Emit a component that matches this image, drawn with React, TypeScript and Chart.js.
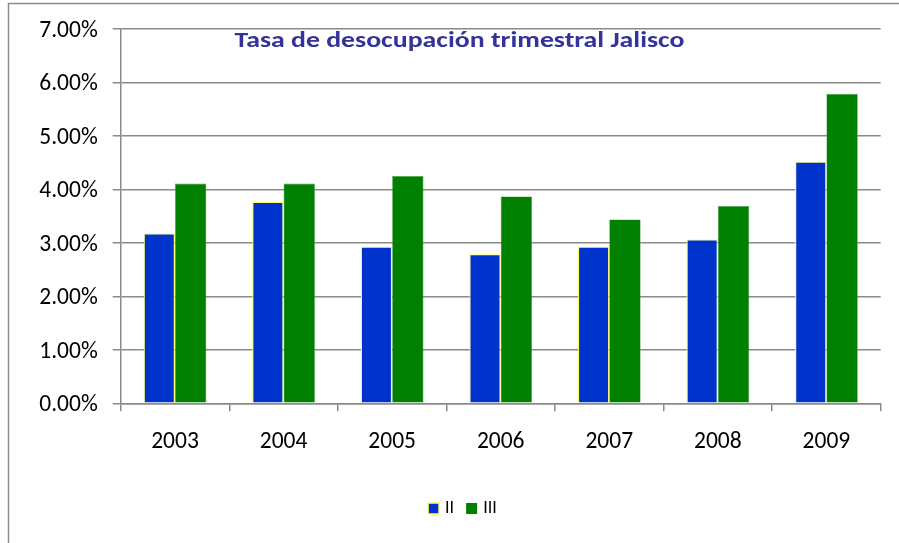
import React, { useEffect, useRef } from 'react';
import { Chart, registerables } from 'chart.js';

Chart.register(...registerables);

const years = ['2003', '2004', '2005', '2006', '2007', '2008', '2009'];
const seriesII = [3.18, 3.77, 2.93, 2.79, 2.93, 3.07, 4.52];
const seriesIII = [4.11, 4.11, 4.25, 3.87, 3.44, 3.69, 5.79];
const seriesNames = ['II', 'III'];
const titleText = 'Tasa de desocupación trimestral Jalisco';
const yMin = 0;
const yMax = 7;
const yStep = 1;

const FONT = 'Carlito, Calibri, "DejaVu Sans", sans-serif';
const GRID = '#8a8a8a';

const framePlugin = {
  id: 'frame',
  beforeDraw(chart: any) {
    const ctx = chart.ctx;
    ctx.save();
    ctx.fillStyle = '#ffffff';
    ctx.fillRect(0, 0, chart.width, chart.height);
    ctx.strokeStyle = '#8c8c8c';
    ctx.lineWidth = 1.5;
    ctx.strokeRect(8.5, 3.5, 1200, 1200);
    ctx.restore();
  },
};

const titlePlugin = {
  id: 'innerTitle',
  afterDraw(chart: any) {
    const ctx = chart.ctx;
    ctx.save();
    ctx.font = `bold 21.7px ${FONT}`;
    const w = ctx.measureText(titleText).width;
    const targetW = 450;
    ctx.fillStyle = '#333399';
    ctx.textAlign = 'left';
    ctx.textBaseline = 'alphabetic';
    ctx.translate(234.5, 46.7);
    ctx.scale(targetW / w, 1);
    ctx.fillText(titleText, 0, 0);
    ctx.restore();
  },
};

const legendPlugin = {
  id: 'customLegend',
  afterDraw(chart: any) {
    const ctx = chart.ctx;
    ctx.save();
    ctx.font = `18px ${FONT}`;
    ctx.textBaseline = 'middle';
    ctx.textAlign = 'left';
    const box = 11;
    const cy = 508.5;
    const gapBoxText = 6;
    const gapItems = 12;
    const ds = chart.data.datasets;
    const widths = ds.map((d: any) => box + gapBoxText + ctx.measureText(d.label).width);
    const total = widths.reduce((a: number, b: number) => a + b, 0) + gapItems * (ds.length - 1);
    let x = 462.4 - total / 2;
    ds.forEach((d: any, i: number) => {
      ctx.fillStyle = d.backgroundColor;
      ctx.fillRect(x, cy - box / 2, box, box);
      if (d.legendBorder) {
        ctx.strokeStyle = d.legendBorder;
        ctx.lineWidth = 1.5;
        ctx.strokeRect(x, cy - box / 2, box, box);
      }
      ctx.fillStyle = '#000000';
      ctx.fillText(d.label, x + box + gapBoxText, cy);
      x += widths[i] + gapItems;
    });
    ctx.restore();
  },
};

export default function App() {
  const ref = useRef<HTMLCanvasElement>(null);

  useEffect(() => {
    if (!ref.current) return;
    const chart = new Chart(ref.current, {
      type: 'bar',
      data: {
        labels: years,
        datasets: [
          {
            label: seriesNames[0],
            data: seriesII,
            backgroundColor: '#0033CC',
            borderColor: '#FFFF66',
            borderWidth: 1.2,
            legendBorder: '#FFFF66',
            categoryPercentage: 0.578,
            barPercentage: 1,
          } as any,
          {
            label: seriesNames[1],
            data: seriesIII,
            backgroundColor: '#008000',
            borderColor: '#4E9E4E',
            borderWidth: 0.6,
            categoryPercentage: 0.578,
            barPercentage: 1,
          } as any,
        ],
      },
      options: {
        responsive: false,
        animation: false,
        devicePixelRatio: 1,
        layout: { padding: { left: 0, right: 18.3, top: 27.3, bottom: 0 } },
        plugins: {
          legend: { display: false },
          title: { display: false },
          tooltip: { enabled: false },
        },
        scales: {
          x: {
            offset: true,
            grid: {
              display: true,
              offset: true,
              drawOnChartArea: false,
              drawTicks: true,
              tickLength: 8,
              color: GRID,
              lineWidth: 1.5,
            },
            border: { display: true, color: GRID, width: 1.5 },
            ticks: {
              color: '#000000',
              font: { family: FONT, size: 23.5 },
              padding: 17,
              maxRotation: 0,
            },
            afterFit(scale: any) {
              scale.height = 139.7;
            },
          },
          y: {
            min: yMin,
            max: yMax,
            grid: {
              display: true,
              drawTicks: true,
              tickLength: 8,
              color: GRID,
              lineWidth: 1.5,
            },
            border: { display: true, color: GRID, width: 1.5 },
            ticks: {
              stepSize: yStep,
              color: '#000000',
              font: { family: FONT, size: 23.5 },
              padding: 15,
              labelOffset: 2,
              callback: (v: any) => Number(v).toFixed(2) + '%',
            },
            afterFit(scale: any) {
              scale.width = 120.7;
            },
          },
        },
      },
      plugins: [framePlugin, titlePlugin, legendPlugin],
    });
    return () => chart.destroy();
  }, []);

  return (
    <div style={{ position: 'absolute', left: 0, top: 0, width: 899, height: 543, background: '#fff' }}>
      <canvas ref={ref} width={899} height={543} style={{ display: 'block', width: 899, height: 543 }} />
    </div>
  );
}
